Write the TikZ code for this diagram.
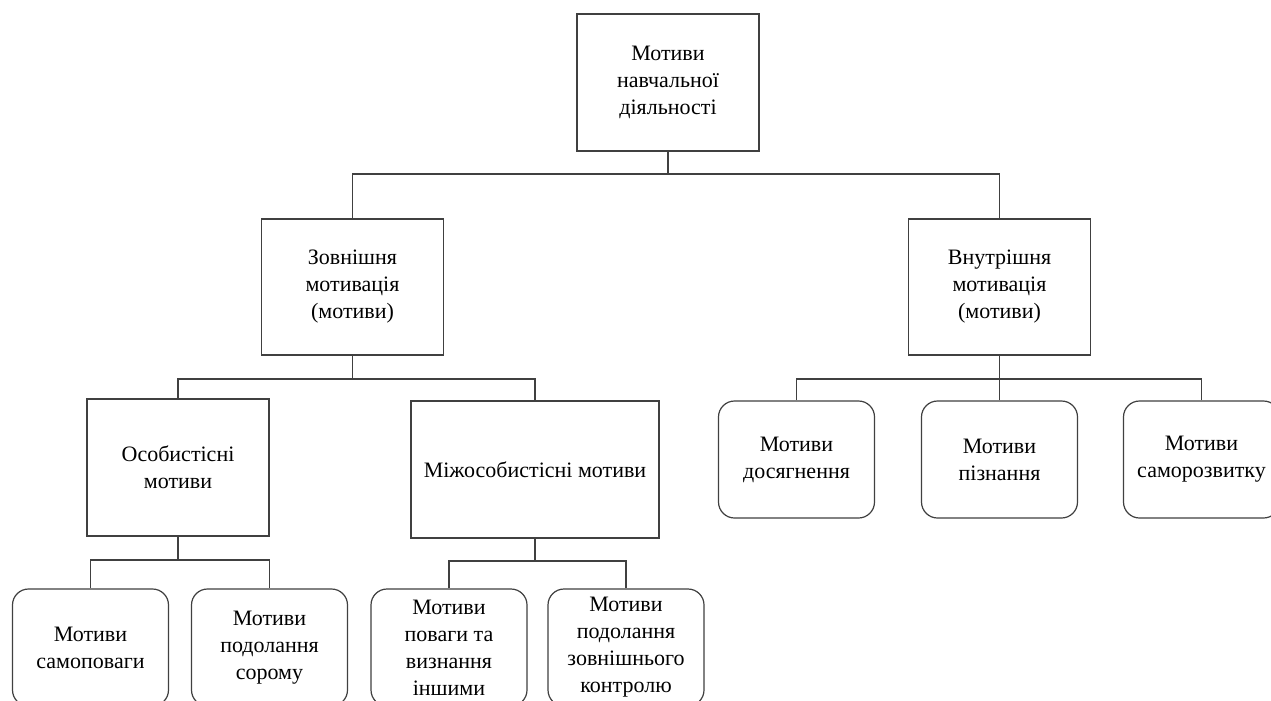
\documentclass[tikz,border=0pt]{standalone}
\usepackage{fontspec}
\setmainfont{Liberation Serif}
\usepackage{xcolor}
\usepackage{tikz}
\usetikzlibrary{positioning}
\definecolor{linegray}{rgb}{0.25,0.25,0.25}
\tikzstyle{sqbox} = [rectangle, draw=linegray, line width=1.2pt, align=center, inner sep=0pt, minimum width=182pt, minimum height=137pt, font=\fontsize{22}{27}\selectfont]
\tikzstyle{rbox} = [sqbox, rounded corners=16pt, minimum width=156pt, minimum height=117pt]
\tikzstyle{conn} = [draw=linegray, line width=1.2pt]

\begin{document}
\begin{tikzpicture}[x=1pt,y=-1pt]
\useasboundingbox (0,0) rectangle (1271,701);
\clip (0,0) rectangle (1271,701);
\fill[white] (0,0) rectangle (1271,701);
\draw (668,82.5) node (root) [sqbox] {Мотиви\\навчальної\\діяльності};
\draw (352.5,287) node (zovn) [sqbox, minimum height=136pt] {Зовнішня\\мотивація\\(мотиви)};
\draw (999.5,287) node (vnutr) [sqbox, minimum height=136pt] {Внутрішня\\мотивація\\(мотиви)};
\draw (178,467.5) node (osob) [sqbox] {Особистісні\\мотиви};
\draw (535,469.5) node (mizh) [sqbox, minimum width=248pt] {Міжособистісні мотиви};
%нижній ряд
\draw (90.5,647.5) node (s1) [rbox] {Мотиви\\самоповаги};
\draw (269.5,647.5) node (s2) [rbox] {Мотиви\\подолання\\сорому};
\draw (449,647.5) node (s3) [rbox] {Мотиви\\поваги та\\визнання\\іншими};
\draw (626,647.5) node (s4) [rbox] {Мотиви\\подолання\\зовнішнього\\контролю};
%праворуч
\draw (796.5,459.5) node (v1) [rbox] {Мотиви\\досягнення};
\draw (999.5,459.5) node (v2) [rbox] {Мотиви\\пізнання};
\draw (1201.5,459.5) node (v3) [rbox] {Мотиви\\саморозвитку};
\coordinate (b1) at (668,174);
\coordinate (b2) at (352.5,379);
\coordinate (b3) at (178,560);
\coordinate (b4) at (535,561);
\coordinate (b5) at (999.5,379);
\draw[conn] (root)--(b1);
\draw[conn] (zovn) |- (b1);
\draw[conn] (vnutr) |- (b1);
\draw[conn] (zovn)--(b2);
\draw[conn] (osob) |- (b2);
\draw[conn] (mizh) |- (b2);
\draw[conn] (osob)--(b3);
\draw[conn] (s1) |- (b3);
\draw[conn] (s2) |- (b3);
\draw[conn] (mizh)--(b4);
\draw[conn] (s3) |- (b4);
\draw[conn] (s4) |- (b4);
\draw[conn] (vnutr)--(b5);
\draw[conn] (v1) |- (b5);
\draw[conn] (v2)--(b5);
\draw[conn] (v3) |- (b5);
\end{tikzpicture}
\end{document}
